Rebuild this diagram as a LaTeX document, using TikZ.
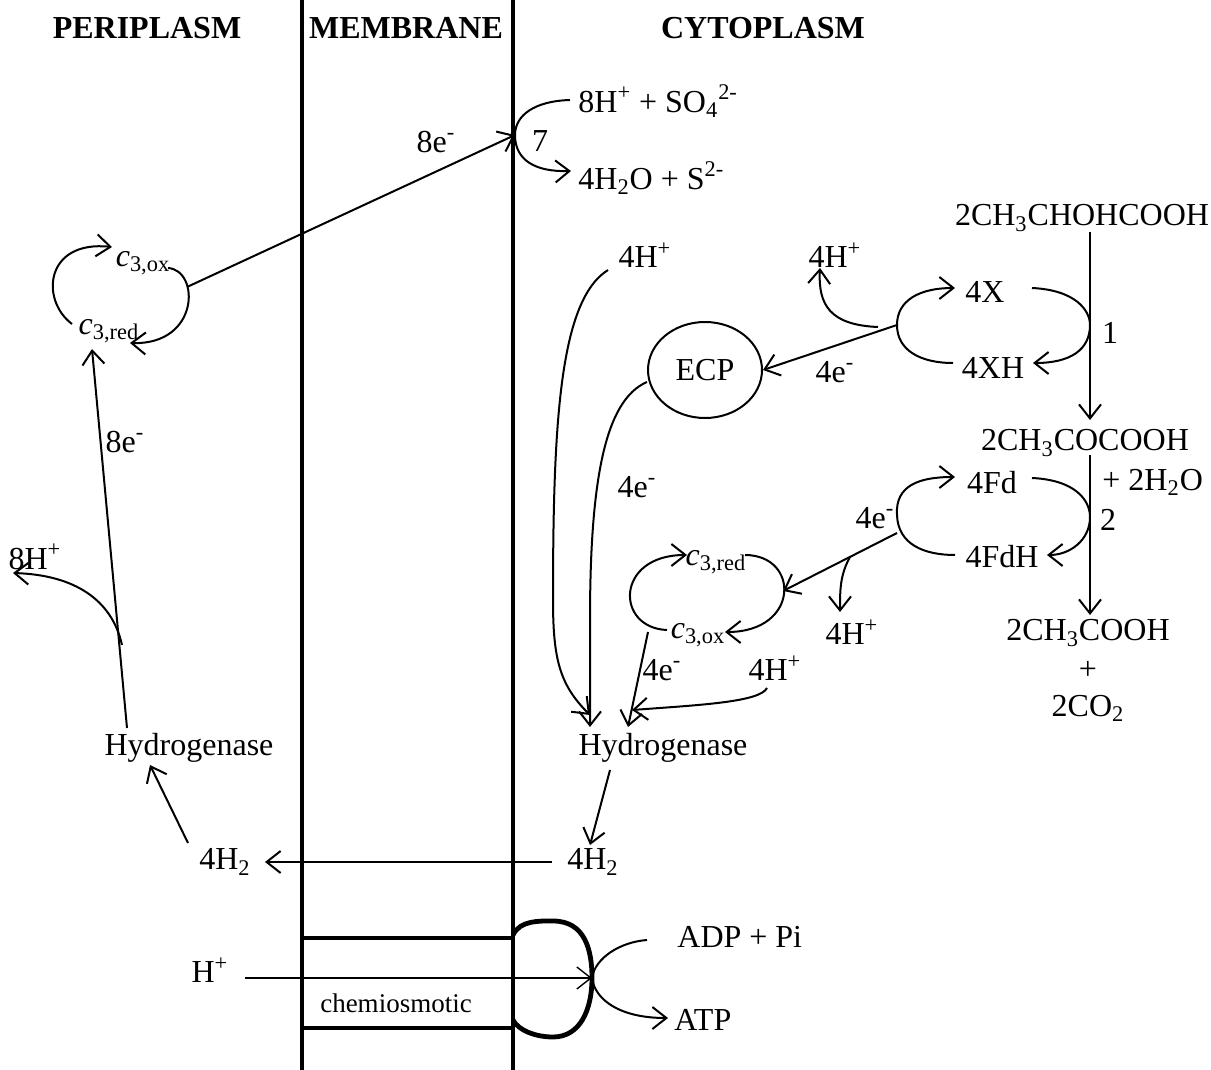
\documentclass[tikz,border=0pt]{standalone}
\usepackage{fontspec}
\setmainfont{Liberation Serif}
\usetikzlibrary{arrows.meta,shapes.geometric}
\newcommand{\cthox}{{\itshape c}\textsubscript{3,ox}}
\newcommand{\cthred}{{\itshape c}\textsubscript{3,red}}
\begin{document}
\begin{tikzpicture}[x=0.5pt,y=-0.5pt,
  lbl/.style={inner sep=1pt,font=\fontsize{16}{19}\selectfont},
  hdr/.style={inner sep=1pt,font=\fontsize{16}{19}\selectfont\bfseries},
  conn/.style={line width=1pt},
  arr/.style={line width=1pt,-{Straight Barb[length=7pt,width=11pt]}},
  thinarr/.style={line width=0.7pt,-{Straight Barb[length=7pt,width=11pt]}},
  mem/.style={line width=2pt}]
\useasboundingbox (0,0) rectangle (1211,1070);

% headers
\node[hdr] (peri) at (147,28) {PERIPLASM};
\node[hdr] (memb) at (406,28) {MEMBRANE};
\node[hdr] (cyto) at (763,28) {CYTOPLASM};

% membrane
\draw[mem] (302,0) -- (302,1070);
\draw[mem] (513,0) -- (513,1070);

% reaction 7
\node[lbl,anchor=west] (so4) at (576,101) {8H\textsuperscript{+} + SO\textsubscript{4}\textsuperscript{2-}};
\node[lbl,anchor=west] (h2o) at (576,178) {4H\textsubscript{2}O + S\textsuperscript{2-}};
\node[lbl] (n7) at (540,141) {7};
\coordinate (r7) at (515,135);
\coordinate (r7a) at (570,100);
\coordinate (r7b) at (571,171);
\draw[conn] (r7a) .. controls (535,101) and (515,115) .. (r7);
\draw[arr] (r7) .. controls (515,160) and (535,172) .. (r7b);
\node[lbl] (e8a) at (436,142) {8e\textsuperscript{-}};

% left cytochrome cycle
\node[lbl] (c3oxL) at (143,263) {\cthox};
\node[lbl] (c3redL) at (109,331) {\cthred};
\coordinate (cLa) at (72,324);
\coordinate (cLb) at (112,247);
\coordinate (cLc) at (168,268);
\coordinate (cLd) at (130,343);
\coordinate (cLr) at (187,287);
\draw[arr] (cLa) .. controls (40,300) and (45,240) .. (cLb);
\draw[arr] (cLc) .. controls (200,270) and (200,345) .. (cLd);
\draw[arr] (cLr) -- (r7);

% left hydrogenase
\node[lbl] (hydL) at (189,748) {Hydrogenase};
\coordinate (hLt) at (127,728);
\coordinate (cLbot) at (92,349);
\draw[arr] (hLt) -- (cLbot);
\coordinate (brL) at (122,645);
\node[lbl] (h8) at (35,557) {8H\textsuperscript{+}};
\coordinate (h8t) at (13,573);
\draw[arr] (brL) .. controls (112,600) and (75,575) .. (h8t);
\node[lbl] (e8b) at (125,442) {8e\textsuperscript{-}};

% H2
\node[lbl] (h2L) at (225,862) {4H\textsubscript{2}};
\node[lbl] (h2R) at (593,862) {4H\textsubscript{2}};
\coordinate (h2Lt) at (188,843);
\coordinate (hydLb) at (150,765);
\draw[arr] (h2Lt) -- (hydLb);
\coordinate (h2Ra) at (552,862);
\coordinate (h2Lb) at (265,862);
\draw[arr] (h2Ra) -- (h2Lb);
\node[lbl] (hydR) at (663,748) {Hydrogenase};
\coordinate (hydRb) at (610,770);
\coordinate (h2Rt) at (590,845);
\draw[arr] (hydRb) -- (h2Rt);

% middle top 4H+ and ECP
\node[lbl] (hm1) at (645,255) {4H\textsuperscript{+}};
\coordinate (hm1a) at (608,270);
\coordinate (hydRt1) at (590,715);
\draw[arr] (hm1a) .. controls (560,300) and (553,420) .. (553,600) .. controls (553,660) and (560,685) .. (hydRt1);
\node[draw,ellipse,line width=1pt,minimum width=57pt,minimum height=48pt,lbl] (ecp) at (705,370) {ECP};
\coordinate (ecpw) at (647,382);
\coordinate (hydRt2) at (590,727);
\draw[arr] (ecpw) .. controls (605,400) and (590,480) .. (590,620) -- (hydRt2);
\node[lbl] (e4a) at (637,487) {4e\textsuperscript{-}};

% X cycle
\node[lbl] (lact) at (1082,218) {2CH\textsubscript{3}CHOHCOOH};
\node[lbl] (x4) at (985,292) {4X};
\node[lbl] (xh4) at (993,368) {4XH};
\coordinate (xl) at (897,325);
\coordinate (xa) at (955,288);
\coordinate (xb) at (953,363);
\coordinate (xc) at (1032,288);
\coordinate (xd) at (1033,363);
\draw[arr] (xl) .. controls (897,300) and (920,288) .. (xa);
\draw[conn] (xl) .. controls (897,350) and (920,363) .. (xb);
\draw[arr] (xc) .. controls (1075,290) and (1090,310) .. (1090,325) .. controls (1090,350) and (1070,363) .. (xd);
\node[lbl] (n1) at (1110,333) {1};
\coordinate (lactb) at (1090,232);
\coordinate (pyrt) at (1090,420);
\draw[arr] (lactb) -- (pyrt);
\draw[arr] (xl) -- (ecp.east);
\node[lbl] (e4b) at (835,372) {4e\textsuperscript{-}};
\node[lbl] (hx) at (835,255) {4H\textsuperscript{+}};
\coordinate (xbr) at (878,327);
\coordinate (hxb) at (820,268);
\draw[arr] (xbr) .. controls (830,325) and (818,305) .. (hxb);

% Fd cycle
\node[lbl] (pyr) at (1085,443) {2CH\textsubscript{3}COCOOH};
\node[lbl,anchor=west] (plw) at (1100,482) {+ 2H\textsubscript{2}O};
\node[lbl] (n2) at (1108,520) {2};
\node[lbl] (fd) at (992,483) {4Fd};
\node[lbl] (fdh) at (1002,557) {4FdH};
\coordinate (fl) at (897,515);
\coordinate (fa) at (955,477);
\coordinate (fb) at (955,555);
\coordinate (fc) at (1032,478);
\coordinate (fdd) at (1047,555);
\draw[arr] (fl) .. controls (895,485) and (920,477) .. (fa);
\draw[conn] (fl) .. controls (898,545) and (925,555) .. (fb);
\draw[arr] (fc) .. controls (1075,480) and (1090,500) .. (1090,517) .. controls (1090,540) and (1070,555) .. (fdd);
\coordinate (pyrb) at (1090,455);
\coordinate (acet) at (1090,615);
\draw[arr] (pyrb) -- (acet);
\node[lbl] (ac) at (1088,633) {2CH\textsubscript{3}COOH};
\node[lbl] (pl) at (1088,670) {+};
\node[lbl] (co2) at (1088,708) {2CO\textsubscript{2}};
\node[lbl] (e4c) at (875,518) {4e\textsuperscript{-}};

% middle cytochrome cycle
\node[lbl] (c3redM) at (716,562) {\cthred};
\node[lbl] (c3oxM) at (698,635) {\cthox};
\coordinate (ma) at (667,630);
\coordinate (mb) at (687,555);
\coordinate (mc) at (745,555);
\coordinate (md) at (725,632);
\coordinate (mr) at (783,591);
\draw[arr] (ma) .. controls (615,628) and (615,555) .. (mb);
\draw[arr] (mc) .. controls (800,555) and (800,632) .. (md);
\coordinate (fle) at (897,533);
\draw[arr] (fle) -- (mr);
\coordinate (fbr) at (850,557);
\coordinate (hfb) at (840,612);
\draw[arr] (fbr) .. controls (840,575) and (840,590) .. (hfb);
\node[lbl] (hf) at (852,632) {4H\textsuperscript{+}};
\coordinate (moxa) at (648,632);
\coordinate (hydRt3) at (628,727);
\draw[arr] (moxa) -- (hydRt3);
\node[lbl] (e4d) at (662,670) {4e\textsuperscript{-}};
\node[lbl] (hm2) at (775,668) {4H\textsuperscript{+}};
\coordinate (hm2a) at (767,688);
\coordinate (hydRt4) at (632,710);
\draw[arr] (hm2a) .. controls (760,702) and (700,705) .. (hydRt4);

% ATP synthase
\draw[mem] (302,938) -- (513,938);
\draw[mem] (302,1028) -- (513,1028);
\draw[line width=2.4pt] (513,935) .. controls (520,920) and (540,921) .. (553,921) .. controls (585,921) and (592,950) .. (592,978) .. controls (592,1010) and (580,1037) .. (553,1037) .. controls (535,1037) and (518,1030) .. (513,1020);
\node[lbl] (hp) at (210,970) {H\textsuperscript{+}};
\coordinate (hpa) at (245,978);
\coordinate (atpc) at (592,978);
\draw[thinarr] (hpa) -- (atpc);
\node[inner sep=1pt,font=\fontsize{13.5}{16}\selectfont] (chem) at (396,1003) {chemiosmotic};
\node[lbl,anchor=west] (adp) at (675,937) {ADP + Pi};
\node[lbl,anchor=west] (atp) at (672,1020) {ATP};
\coordinate (adpa) at (647,940);
\coordinate (atpa) at (668,1018);
\draw[conn] (adpa) .. controls (620,942) and (595,958) .. (atpc);
\draw[arr] (atpc) .. controls (595,1000) and (620,1018) .. (atpa);
\end{tikzpicture}
\end{document}
